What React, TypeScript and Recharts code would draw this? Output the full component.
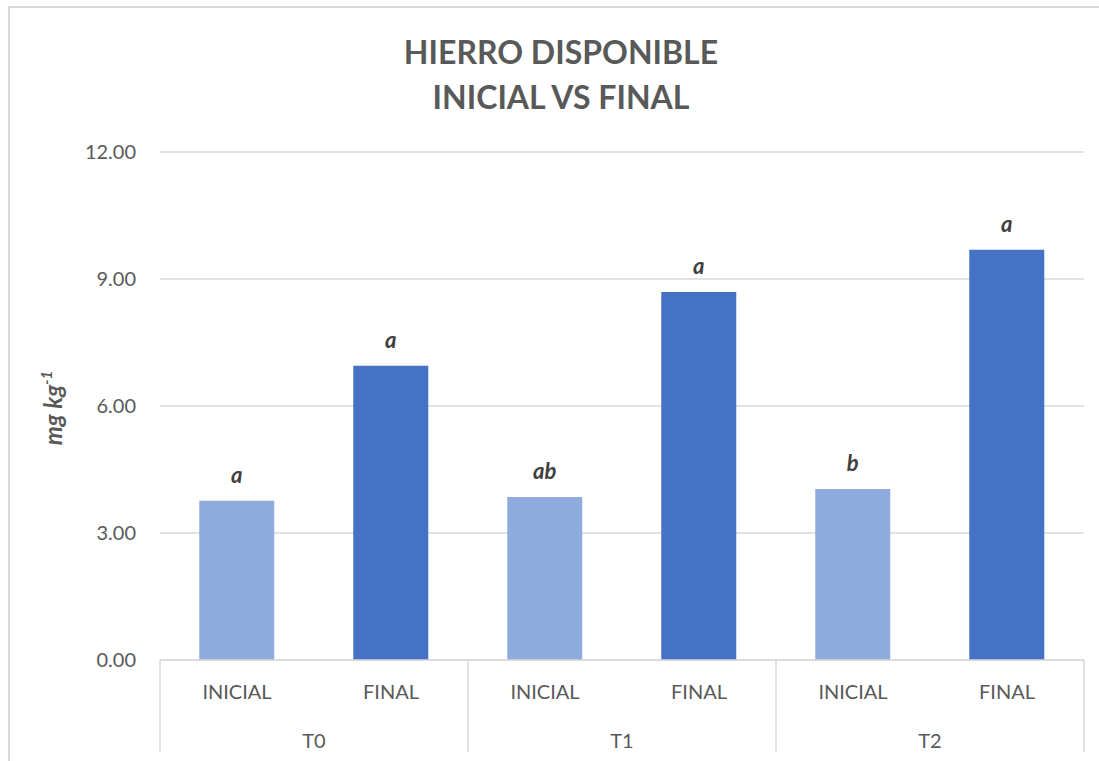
import React from "react";
import { Bar, BarChart, CartesianGrid, Cell, LabelList, XAxis, YAxis } from "recharts";

const groups = ["T0", "T1", "T2"];
const stages = ["INICIAL", "FINAL"];
const values = [3.76, 6.95, 3.85, 8.69, 4.04, 9.69];
const letters = ["a", "a", "ab", "a", "b", "a"];
const yTicks = [0, 3, 6, 9, 12];

const data = values.map((v, i) => ({
  key: `${groups[Math.floor(i / 2)]}-${stages[i % 2]}`,
  stage: stages[i % 2],
  group: groups[Math.floor(i / 2)],
  value: v,
  letter: letters[i],
}));

const FONT = "Lato, 'Open Sans', sans-serif";
const TEXT = "#595959";
const GRID = "#D9D9D9";
const STAGE_COLORS = ["#8FAADC", "#4472C4"];

const W = 1099;
const H = 761;
const M = { top: 152, right: 15, bottom: 9, left: 60 };
const Y_W = 100;
const X_H = 92;
const BAND = (W - M.left - M.right - Y_W) / data.length;

function CatTick(props: any) {
  const { x, y, payload } = props;
  const i = payload.index;
  const d = data[i];
  return (
    <g>
      <text x={x} y={y + 39} textAnchor="middle" fill={TEXT} fontSize={20} fontFamily={FONT}>
        {d.stage}
      </text>
      {i % 2 === 1 && (
        <text x={x - BAND / 2} y={y + 88} textAnchor="middle" fill={TEXT} fontSize={20} fontFamily={FONT}>
          {d.group}
        </text>
      )}
      {i % 2 === 0 && <line x1={x - BAND / 2} x2={x - BAND / 2} y1={y} y2={y + X_H} stroke={GRID} strokeWidth={1.5} />}
      {i === data.length - 1 && (
        <line x1={x + BAND / 2} x2={x + BAND / 2} y1={y} y2={y + X_H} stroke={GRID} strokeWidth={1.5} />
      )}
    </g>
  );
}

function YLabel(props: any) {
  const { viewBox } = props;
  const cx = viewBox.x + 2;
  const cy = viewBox.y + viewBox.height / 2 + 2;
  return (
    <text
      x={cx}
      y={cy}
      transform={`rotate(-90 ${cx} ${cy})`}
      textAnchor="middle"
      fill={TEXT}
      fontSize={24}
      fontFamily={FONT}
      fontWeight="bold"
      fontStyle="italic"
    >
      mg kg
      <tspan dy={-10} fontSize={15}>
        -1
      </tspan>
    </text>
  );
}

export default function App() {
  return (
    <div style={{ position: "absolute", left: 0, top: 0, width: W, height: H, background: "#fff", overflow: "hidden" }}>
      <div
        style={{
          position: "absolute",
          left: 8,
          top: 6,
          width: W + 20,
          height: H + 20,
          border: `2px solid ${GRID}`,
          boxSizing: "border-box",
        }}
      />
      <div
        style={{
          position: "absolute",
          left: 0,
          top: 29,
          width: 1122,
          textAlign: "center",
          fontFamily: FONT,
          fontWeight: "bold",
          fontSize: 32,
          lineHeight: "45px",
          color: TEXT,
        }}
      >
        HIERRO DISPONIBLE
        <br />
        INICIAL VS FINAL
      </div>
      <div style={{ position: "absolute", left: 0, top: 0 }}>
        <BarChart width={W} height={H} data={data} margin={M} barCategoryGap="25.5%">
          <CartesianGrid vertical={false} stroke={GRID} strokeWidth={1.5} />
          <XAxis
            dataKey="key"
            interval={0}
            height={X_H}
            tickLine={false}
            tickSize={0}
            tickMargin={0}
            axisLine={{ stroke: GRID, strokeWidth: 1.5 }}
            tick={<CatTick />}
          />
          <YAxis
            width={Y_W}
            domain={[0, 12]}
            ticks={yTicks}
            axisLine={false}
            tickLine={false}
            tickSize={0}
            tickMargin={24}
            tickFormatter={(v: number) => v.toFixed(2)}
            tick={{ fill: TEXT, fontSize: 20, fontFamily: FONT }}
            label={<YLabel />}
          />
          <Bar dataKey="value" isAnimationActive={false}>
            {data.map((d, i) => (
              <Cell key={d.key} fill={STAGE_COLORS[i % 2]} />
            ))}
            <LabelList
              dataKey="letter"
              position="top"
              offset={18}
              fill="#404040"
              fontSize={22}
              fontFamily={FONT}
              fontWeight="bold"
              fontStyle="italic"
            />
          </Bar>
        </BarChart>
      </div>
    </div>
  );
}
